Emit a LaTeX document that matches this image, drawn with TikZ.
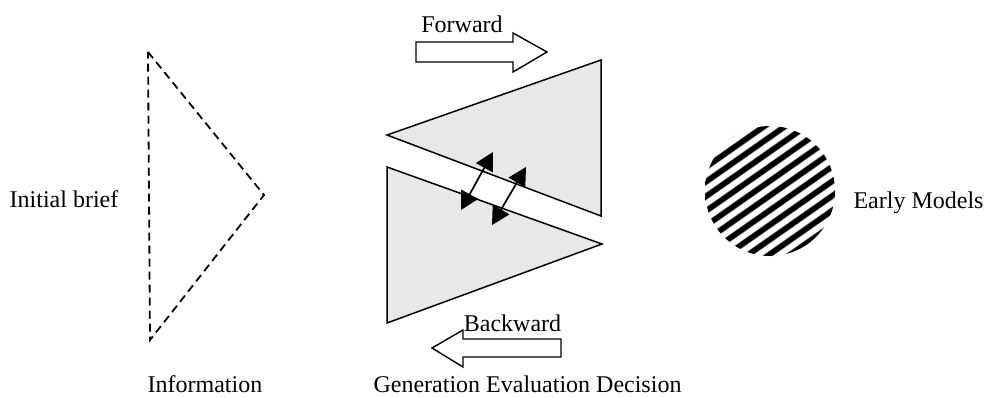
\documentclass[tikz,border=0pt]{standalone}
\usepackage{fontspec}
\setmainfont{Liberation Serif}
\usetikzlibrary{arrows.meta}
\definecolor{panelgray}{RGB}{232,232,232}
\pgfdeclarefunctionalshading{grating}{\pgfpoint{-50bp}{-50bp}}{\pgfpoint{50bp}{50bp}}{}{
 0.8192 mul exch -0.5736 mul add
 78 mul sin 1.4 mul 0.55 add
 dup 0 lt {pop 0} if dup 1 gt {pop 1} if
 dup dup
}
\begin{document}
\begin{tikzpicture}[x=1pt,y=-1pt,
  lbl/.style={font=\fontsize{24}{28}\selectfont, inner sep=0pt, anchor=base},
  panel/.style={draw=black, line width=1.5pt, fill=panelgray, line join=miter},
  blockarrow/.style={draw=black, line width=1.4pt, fill=white, line join=miter},
  exchange/.style={line width=1.7pt, {Triangle[length=18pt,width=19pt]}-{Triangle[length=18pt,width=19pt]}}
]
\useasboundingbox (0,0) rectangle (984,397);

% dashed information triangle
\draw[line width=1.8pt, dash pattern=on 8pt off 5pt] (148,52) -- (264,195) -- (150,340) -- cycle;

% grey panels
\draw[panel] (387,135) -- (601,60) -- (601,216) -- cycle;
\draw[panel] (387,167) -- (602,244) -- (387,323) -- cycle;

% exchange arrows
\coordinate (a1s) at (461,210);
\coordinate (a1e) at (493,152);
\coordinate (a2s) at (492,225);
\coordinate (a2e) at (526,167);
\draw[exchange] (a1s) -- (a1e);
\draw[exchange] (a2s) -- (a2e);

% forward / backward block arrows
\draw[blockarrow] (416,42) -- (513,42) -- (513,33) -- (547,52) -- (513,72) -- (513,62) -- (416,62) -- cycle;
\draw[blockarrow] (561,339) -- (463,339) -- (463,330) -- (432,348) -- (463,367) -- (463,357) -- (561,357) -- cycle;

% striped circle
\shade[shading=grating] (770,191) circle[radius=65pt];

% labels
\node[lbl] (brief) at (64,207) {Initial brief};
\node[lbl] (info) at (205,392) {Information};
\node[lbl] (ged) at (527.5,392) {Generation Evaluation Decision};
\node[lbl] (fwd) at (462,32) {Forward};
\node[lbl] (bwd) at (512.5,331) {Backward};
\node[lbl] (early) at (918.5,208) {Early Models};
\end{tikzpicture}
\end{document}
